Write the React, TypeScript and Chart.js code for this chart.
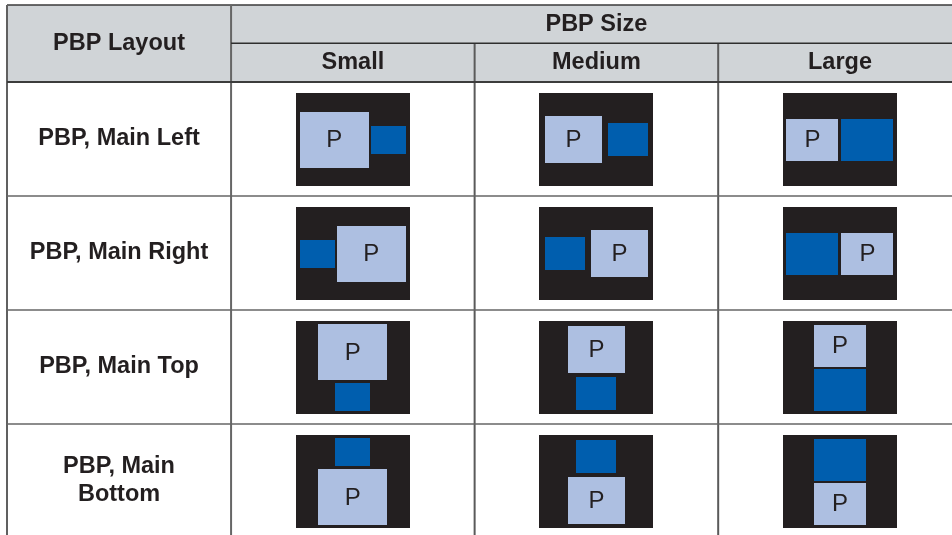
import React, { useEffect, useRef } from 'react';
import { Chart, registerables } from 'chart.js';

Chart.register(...registerables);

// ---------- data ----------
const layoutTitle = 'PBP Layout';
const sizeTitle = 'PBP Size';
const sizes = ['Small', 'Medium', 'Large'];
const layouts = ['PBP, Main Left', 'PBP, Main Right', 'PBP, Main Top', 'PBP, Main Bottom'];
const layoutLabelLines = [['PBP, Main Left'], ['PBP, Main Right'], ['PBP, Main Top'], ['PBP, Main', 'Bottom']];
const layoutModes = ['left', 'right', 'top', 'bottom'];
const mainLabel = 'P';
// window sizes on a 114 × 93 screen, one per PBP size
const mainWidths = [69, 57, 52];
const mainHeights = [56, 47, 42];
const subWidths = [35, 40, 52];
const subHeights = [28, 33, 42];
const sideGaps = [2, 6, 3];
const stackGaps = [3, 4, 2];

// ---------- geometry (in scale units) ----------
const SCREEN_W = 114;
const SCREEN_H = 93;
const LAYOUT_COL = 0.92;
const X_MAX = 3.88;
const HEAD1 = 0.335;
const HEAD2 = 0.675;
const Y_MAX = 4.649;
const DIAG_W = 0.468;
const DIAG_H = 0.816;
const DIAG_DY = 0.006;

const INK = '#231f20';
const HEAD_BG = '#d0d4d7';
const MAIN_FILL = '#adbfe1';
const SUB_FILL = '#005eae';
const SCREEN_FILL = '#231f20';
const FONT = '"Liberation Sans", Arial, Helvetica, sans-serif';

const tablePlugin = {
  id: 'pbpTable',
  afterDraw(chart: any) {
    const { ctx, scales } = chart;
    const xs = scales.x;
    const ys = scales.y;
    const px = (v: number) => xs.getPixelForValue(v);
    const py = (v: number) => ys.getPixelForValue(v);
    const xEnd = LAYOUT_COL + sizes.length;
    const yEnd = HEAD2 + layouts.length;

    const rect = (x0: number, y0: number, x1: number, y1: number, fill: string) => {
      const a = Math.round(px(x0));
      const b = Math.round(py(y0));
      const c = Math.round(px(x1));
      const d = Math.round(py(y1));
      ctx.fillStyle = fill;
      ctx.fillRect(a, b, c - a, d - b);
    };
    const line = (x0: number, y0: number, x1: number, y1: number, color: string, w: number) => {
      ctx.beginPath();
      ctx.strokeStyle = color;
      ctx.lineWidth = w;
      ctx.moveTo(px(x0), py(y0));
      ctx.lineTo(px(x1), py(y1));
      ctx.stroke();
    };
    const text = (s: string, x: number, y: number, font: string) => {
      ctx.font = font;
      ctx.fillStyle = INK;
      ctx.textAlign = 'center';
      ctx.textBaseline = 'middle';
      ctx.fillText(s, px(x), py(y));
    };

    ctx.save();
    // header background
    rect(0, 0, xEnd, HEAD2, HEAD_BG);

    // diagrams
    layouts.forEach((_, r) => {
      const mode = layoutModes[r];
      const cy = HEAD2 + r + 0.5 + DIAG_DY;
      sizes.forEach((__, c) => {
        const cx = LAYOUT_COL + c + 0.5;
        const sx = (u: number) => cx - DIAG_W / 2 + (u / SCREEN_W) * DIAG_W;
        const sy = (u: number) => cy - DIAG_H / 2 + (u / SCREEN_H) * DIAG_H;
        rect(sx(0), sy(0), sx(SCREEN_W), sy(SCREEN_H), SCREEN_FILL);
        const mw = mainWidths[c], mh = mainHeights[c];
        const sw = subWidths[c], sh = subHeights[c];
        let mx = 0, my = 0, bx = 0, by = 0;
        if (mode === 'left' || mode === 'right') {
          const total = mw + sideGaps[c] + sw;
          const x0 = (SCREEN_W - total) / 2;
          my = (SCREEN_H - mh) / 2;
          by = (SCREEN_H - sh) / 2;
          if (mode === 'left') { mx = x0; bx = x0 + mw + sideGaps[c]; }
          else { bx = x0; mx = x0 + sw + sideGaps[c]; }
        } else {
          const total = mh + stackGaps[c] + sh;
          const y0 = (SCREEN_H - total) / 2;
          mx = (SCREEN_W - mw) / 2;
          bx = (SCREEN_W - sw) / 2;
          if (mode === 'top') { my = y0; by = y0 + mh + stackGaps[c]; }
          else { by = y0; my = y0 + sh + stackGaps[c]; }
        }
        rect(sx(mx), sy(my), sx(mx + mw), sy(my + mh), MAIN_FILL);
        rect(sx(bx), sy(by), sx(bx + sw), sy(by + sh), SUB_FILL);
        ctx.font = `24px ${FONT}`;
        ctx.fillStyle = INK;
        ctx.textAlign = 'center';
        ctx.textBaseline = 'middle';
        ctx.fillText(mainLabel, px(sx(mx + mw / 2)), py(sy(my + mh / 2)) + 1);
      });
    });

    // grid lines
    line(0, 0, xEnd, 0, '#3a3a3a', 1.6);
    line(0, 0, 0, yEnd, '#606060', 2);
    line(LAYOUT_COL, 0, LAYOUT_COL, yEnd, '#666666', 2);
    for (let c = 1; c < sizes.length; c++) {
      line(LAYOUT_COL + c, HEAD1, LAYOUT_COL + c, yEnd, '#5a5a5a', 2);
    }
    line(LAYOUT_COL, HEAD1, xEnd, HEAD1, '#2e2e2e', 1.4);
    line(0, HEAD2, xEnd, HEAD2, '#3c3c3c', 2);
    for (let r = 1; r < layouts.length; r++) {
      line(0, HEAD2 + r, xEnd, HEAD2 + r, '#666666', 1.6);
    }

    // header texts
    const bold = `bold 23.5px ${FONT}`;
    text(layoutTitle, LAYOUT_COL / 2, HEAD2 / 2, bold);
    text(sizeTitle, LAYOUT_COL + sizes.length / 2, HEAD1 / 2, bold);
    sizes.forEach((s, c) => text(s, LAYOUT_COL + c + 0.5, (HEAD1 + HEAD2) / 2, bold));

    // row labels
    layoutLabelLines.forEach((lines, r) => {
      const cy = py(HEAD2 + r + 0.5);
      const lh = 28;
      lines.forEach((s, i) => {
        ctx.font = bold;
        ctx.fillStyle = INK;
        ctx.textAlign = 'center';
        ctx.textBaseline = 'middle';
        ctx.fillText(s, px(LAYOUT_COL / 2), cy + (i - (lines.length - 1) / 2) * lh);
      });
    });
    ctx.restore();
  },
};

export default function App() {
  const ref = useRef<HTMLCanvasElement | null>(null);
  useEffect(() => {
    if (!ref.current) return;
    const chart = new Chart(ref.current, {
      type: 'scatter',
      data: { datasets: [] },
      options: {
        animation: false,
        responsive: false,
        devicePixelRatio: 1,
        layout: { padding: { left: 7, top: 5, right: 0, bottom: 0 } },
        plugins: { legend: { display: false }, tooltip: { enabled: false } },
        scales: {
          x: { type: 'linear', min: 0, max: X_MAX, display: false },
          y: { type: 'linear', min: 0, max: Y_MAX, reverse: true, display: false },
        },
      },
      plugins: [tablePlugin],
    } as any);
    return () => chart.destroy();
  }, []);
  return (
    <div style={{ position: 'fixed', left: 0, top: 0, width: 952, height: 535, background: '#fff' }}>
      <canvas ref={ref} width={952} height={535} />
    </div>
  );
}
